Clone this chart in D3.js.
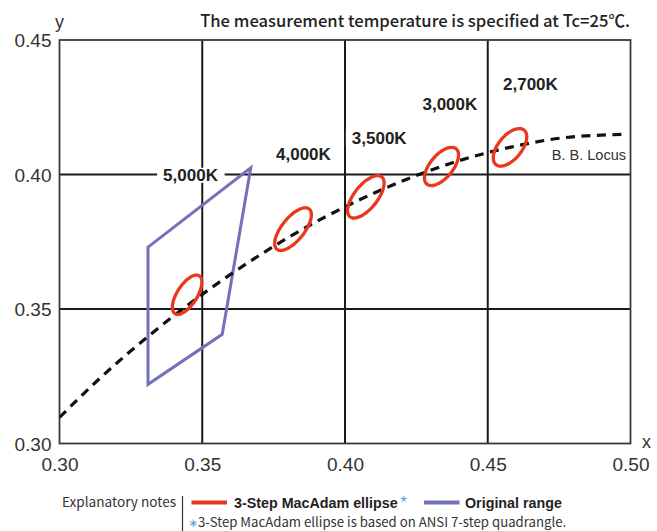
<!DOCTYPE html>
<html>
<head>
<meta charset="utf-8">
<script src="https://cdn.jsdelivr.net/npm/d3@7"></script>
<style>
  html, body { margin: 0; padding: 0; background: #fff; }
  svg { display: block; }
</style>
</head>
<body>
<svg id="chart" width="657" height="531"></svg>
<script>
// ---------------- DATA ----------------
const xTicks = [0.30, 0.35, 0.40, 0.45, 0.50];
const yTicks = [0.30, 0.35, 0.40, 0.45];
const xTickLabels = ["0.30", "0.35", "0.40", "0.45", "0.50"];
const yTickLabels = ["0.30", "0.35", "0.40", "0.45"];

// Black-body (Planckian) locus points
const locusX = [0.3000, 0.3135, 0.3221, 0.3324, 0.3451, 0.3608, 0.3805, 0.4053, 0.4369, 0.4599, 0.4770, 0.4975];
const locusY = [0.3097, 0.3236, 0.3318, 0.3410, 0.3516, 0.3635, 0.3768, 0.3907, 0.4041, 0.4106, 0.4137, 0.4149];

// 3-step MacAdam ellipses (centre, semi-axes, rotation in degrees)
const cctLabels = ["5,000K", "4,000K", "3,500K", "3,000K", "2,700K"];
const ellipseCx = [0.3447, 0.3818, 0.4073, 0.4338, 0.4578];
const ellipseCy = [0.3553, 0.3797, 0.3917, 0.4030, 0.4101];
const ellipseA  = [0.00822, 0.00939, 0.00927, 0.00834, 0.00810];
const ellipseB  = [0.00354, 0.00402, 0.00414, 0.00408, 0.00420];
const ellipseTheta = [59.62, 53.72, 54.00, 53.22, 53.70];

// Original range quadrangle
const quadX = [0.3310, 0.3310, 0.3570, 0.3670];
const quadY = [0.3730, 0.3220, 0.3406, 0.4025];

const titleText = "The measurement temperature is specified at Tc=25\u2103.";
const locusLabel = "B. B. Locus";
const legendTitle = "Explanatory notes";
const legendItems = ["3-Step MacAdam ellipse", "Original range"];
const footnote = "3-Step MacAdam ellipse is based on ANSI 7-step quadrangle.";

// ---------------- LAYOUT ----------------
const plot = { left: 59.5, right: 630.5, top: 40, bottom: 443.5 };
const labelOffsets = [[-24, -114], [-17, -69], [-14, -53], [-19, -56], [-7, -57]];
const RED = "#e8391d", PURPLE = "#7371b9", BLUE = "#3aa9e0";

const svg = d3.select("#chart");
const x = d3.scaleLinear().domain([0.30, 0.50]).range([plot.left, plot.right]);
const y = d3.scaleLinear().domain([0.30, 0.45]).range([plot.bottom, plot.top]);

// Grid lines (interior)
const g = svg.append("g");
g.selectAll("line.vx").data(xTicks.filter(v => v > 0.30 && v < 0.50)).join("line")
  .attr("x1", d => x(d)).attr("x2", d => x(d))
  .attr("y1", plot.top).attr("y2", plot.bottom)
  .attr("stroke", "#1a1a1a").attr("stroke-width", 2);
g.selectAll("line.hy").data(yTicks.filter(v => v > 0.30 && v < 0.45)).join("line")
  .attr("x1", plot.left).attr("x2", plot.right)
  .attr("y1", d => y(d)).attr("y2", d => y(d))
  .attr("stroke", "#1a1a1a").attr("stroke-width", 2);

// Frame
svg.append("rect")
  .attr("x", plot.left).attr("y", plot.top)
  .attr("width", plot.right - plot.left).attr("height", plot.bottom - plot.top)
  .attr("fill", "none").attr("stroke", "#3a3a3a").attr("stroke-width", 1.8);

// Axes tick labels
const xAxis = d3.axisBottom(x).tickValues(xTicks).tickSize(0).tickPadding(0)
  .tickFormat((d, i) => xTickLabels[i]);
const xg = svg.append("g").attr("transform", `translate(0,${plot.bottom})`).call(xAxis);
xg.select(".domain").remove();
xg.selectAll("text").attr("font-family", "Liberation Sans, Arial, sans-serif")
  .attr("font-size", 19).attr("fill", "#333").attr("dy", null).attr("y", 27.5);

const yAxis = d3.axisLeft(y).tickValues(yTicks).tickSize(0).tickPadding(8)
  .tickFormat((d, i) => yTickLabels[i]);
const yg = svg.append("g").attr("transform", `translate(${plot.left},0)`).call(yAxis);
yg.select(".domain").remove();
yg.selectAll("text").attr("font-family", "Liberation Sans, Arial, sans-serif")
  .attr("font-size", 19).attr("fill", "#333").attr("dy", "0.36em");

// Axis names
svg.append("text").attr("x", 55).attr("y", 28).text("y")
  .attr("font-family", "Liberation Sans, Arial, sans-serif").attr("font-size", 18).attr("fill", "#333");
svg.append("text").attr("x", 642).attr("y", 448).text("x")
  .attr("font-family", "Liberation Sans, Arial, sans-serif").attr("font-size", 18).attr("fill", "#333");

// Title
svg.append("text").attr("x", 630).attr("y", 27).attr("text-anchor", "end")
  .attr("font-family", "Noto Sans CJK JP, Noto Sans, sans-serif").attr("font-weight", 500)
  .attr("font-size", 16.6).attr("fill", "#222").text(titleText);

// Plot clip
svg.append("clipPath").attr("id", "plotclip").append("rect")
  .attr("x", plot.left).attr("y", plot.top)
  .attr("width", plot.right - plot.left).attr("height", plot.bottom - plot.top);

// Quadrangle
const quadPts = quadX.map((v, i) => [x(v), y(quadY[i])]);
svg.append("path")
  .attr("d", d3.line()(quadPts) + "Z")
  .attr("fill", "none").attr("stroke", PURPLE).attr("stroke-width", 3)
  .attr("stroke-linejoin", "miter");

// Kelvin labels (with white knock-out)
const lblG = svg.append("g");
ellipseCx.forEach((cx, i) => {
  const px = x(cx) + labelOffsets[i][0];
  const py = y(ellipseCy[i]) + labelOffsets[i][1];
  const t = lblG.append("text").attr("x", px).attr("y", py)
    .attr("font-family", "Liberation Sans, Arial, sans-serif").attr("font-weight", "bold")
    .attr("font-size", 17).attr("fill", "#222").text(cctLabels[i]);
  const bb = t.node().getBBox();
  lblG.insert("rect", "text").attr("x", bb.x - 6).attr("y", bb.y + 2)
    .attr("width", bb.width + 12).attr("height", bb.height - 4).attr("fill", "#fff");
});

// B.B. locus dashed curve
const locusPts = locusX.map((v, i) => [x(v), y(locusY[i])]);
svg.append("path")
  .attr("clip-path", "url(#plotclip)")
  .attr("d", d3.line().curve(d3.curveMonotoneX)(locusPts))
  .attr("fill", "none").attr("stroke", "#111").attr("stroke-width", 3.2)
  .attr("stroke-dasharray", "9,6.5");

svg.append("text").attr("x", 626).attr("y", 160).attr("text-anchor", "end")
  .attr("font-family", "Liberation Sans, Arial, sans-serif").attr("font-size", 14.5)
  .attr("fill", "#333").text(locusLabel);

// Ellipses (outline computed in data space, mapped through scales)
const steps = d3.range(0, 72);
ellipseCx.forEach((cx, i) => {
  const th = ellipseTheta[i] * Math.PI / 180;
  const a = ellipseA[i], b = ellipseB[i], cy = ellipseCy[i];
  const pts = steps.map(k => {
    const t = k / 72 * 2 * Math.PI;
    const dx = a * Math.cos(t), dy = b * Math.sin(t);
    return [x(cx + dx * Math.cos(th) - dy * Math.sin(th)),
            y(cy + dx * Math.sin(th) + dy * Math.cos(th))];
  });
  svg.append("path").attr("d", d3.line().curve(d3.curveCardinalClosed)(pts))
    .attr("fill", "none").attr("stroke", RED).attr("stroke-width", 3.3);
});

// Legend
const lg = svg.append("g");
lg.append("text").attr("x", 62).attr("y", 507)
  .attr("font-family", "Noto Sans CJK JP, Noto Sans, sans-serif").attr("font-size", 13.6)
  .attr("fill", "#333").text(legendTitle);
lg.append("line").attr("x1", 182.5).attr("x2", 182.5).attr("y1", 496).attr("y2", 531)
  .attr("stroke", "#333").attr("stroke-width", 1.2);
lg.append("line").attr("x1", 191.5).attr("x2", 227).attr("y1", 502.5).attr("y2", 502.5)
  .attr("stroke", RED).attr("stroke-width", 4);
lg.append("text").attr("x", 234).attr("y", 507.5)
  .attr("font-family", "Liberation Sans, Arial, sans-serif").attr("font-weight", "bold")
  .attr("font-size", 14.3).attr("fill", "#222").text(legendItems[0]);
lg.append("text").attr("x", 400.5).attr("y", 508)
  .attr("font-family", "Liberation Sans, Arial, sans-serif").attr("font-size", 16)
  .attr("fill", BLUE).text("*");
lg.append("line").attr("x1", 424).attr("x2", 459.5).attr("y1", 502.5).attr("y2", 502.5)
  .attr("stroke", PURPLE).attr("stroke-width", 4);
lg.append("text").attr("x", 465).attr("y", 507.5)
  .attr("font-family", "Liberation Sans, Arial, sans-serif").attr("font-weight", "bold")
  .attr("font-size", 14.3).attr("fill", "#222").text(legendItems[1]);
lg.append("text").attr("x", 193).attr("y", 527).attr("text-anchor", "middle")
  .attr("font-family", "DejaVu Sans, sans-serif").attr("font-size", 12)
  .attr("fill", BLUE).text("\u2217");
lg.append("text").attr("x", 198).attr("y", 527)
  .attr("font-family", "Noto Sans CJK JP, Noto Sans, sans-serif").attr("font-size", 13.2)
  .attr("fill", "#333").text(footnote);
</script>
</body>
</html>
